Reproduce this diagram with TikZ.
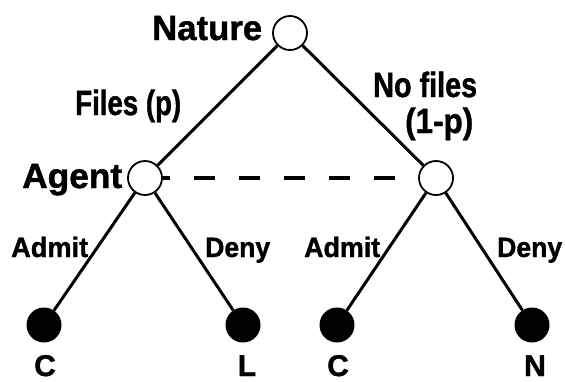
\documentclass[tikz,border=0pt]{standalone}
\usepackage{fontspec}
\usepackage{graphicx}
\setmainfont{Liberation Sans}[BoldFeatures={FakeBold=1.3}]
\newcommand{\fitw}[2]{\resizebox{#1}{\height}{#2}}
\begin{document}
\begin{tikzpicture}[x=1pt,y=-1pt,
  chance/.style={circle,draw,line width=1.8pt,minimum size=34pt,inner sep=0pt,fill=white},
  leaf/.style={circle,fill=black,minimum size=35pt,inner sep=0pt},
  branch/.style={line width=3pt},
  info/.style={line width=3.4pt,dash pattern=on 21pt off 24pt,dash phase=14pt},
  big/.style={inner sep=0pt,font=\fontsize{35}{38}\selectfont\bfseries},
  small/.style={inner sep=0pt,font=\fontsize{28}{32}\selectfont\bfseries},
  term/.style={inner sep=0pt,font=\fontsize{30}{33}\selectfont\bfseries}]
\useasboundingbox (0,0) rectangle (565,381);
% decision / chance nodes
\node[chance] (nature) at (290,33) {};
\node[chance] (agent) at (145,178) {};
\node[chance] (ra) at (436,178) {};
% terminal nodes
\node[leaf] (l1) at (44,325) {};
\node[leaf] (l2) at (243,325) {};
\node[leaf] (l3) at (337,325) {};
\node[leaf] (l4) at (532,325) {};
% branches
\draw[branch] (nature) -- (agent);
\draw[branch] (nature) -- (ra);
\draw[branch] (agent) -- (l1);
\draw[branch] (agent) -- (l2);
\draw[branch] (ra) -- (l3);
\draw[branch] (ra) -- (l4);
\draw[info] (agent) -- (ra);
% labels
\node[big,anchor=base west] (tnature) at (152,40) {\fitw{110pt}{Nature}};
\node[big,anchor=base west] (tfiles) at (75,115) {\fitw{106pt}{Files (p)}};
\node[big,anchor=base west] (tnofiles) at (373,97) {\fitw{104pt}{No files}};
\node[big,anchor=base west] (tprob) at (405,133) {\fitw{68pt}{(1-p)}};
\node[big,anchor=base west] (tagent) at (22,188) {\fitw{100pt}{Agent}};
\node[small,anchor=base west] (ta1) at (11,257) {\fitw{77pt}{Admit}};
\node[small,anchor=base west] (td1) at (205,257) {\fitw{65pt}{Deny}};
\node[small,anchor=base west] (ta2) at (304,257) {\fitw{76pt}{Admit}};
\node[small,anchor=base west] (td2) at (497,257) {\fitw{65pt}{Deny}};
\node[term,anchor=base] (c1) at (45,376) {C};
\node[term,anchor=base] (c2) at (247,376) {L};
\node[term,anchor=base] (c3) at (338,376) {C};
\node[term,anchor=base] (c4) at (535,376) {N};
\end{tikzpicture}
\end{document}
